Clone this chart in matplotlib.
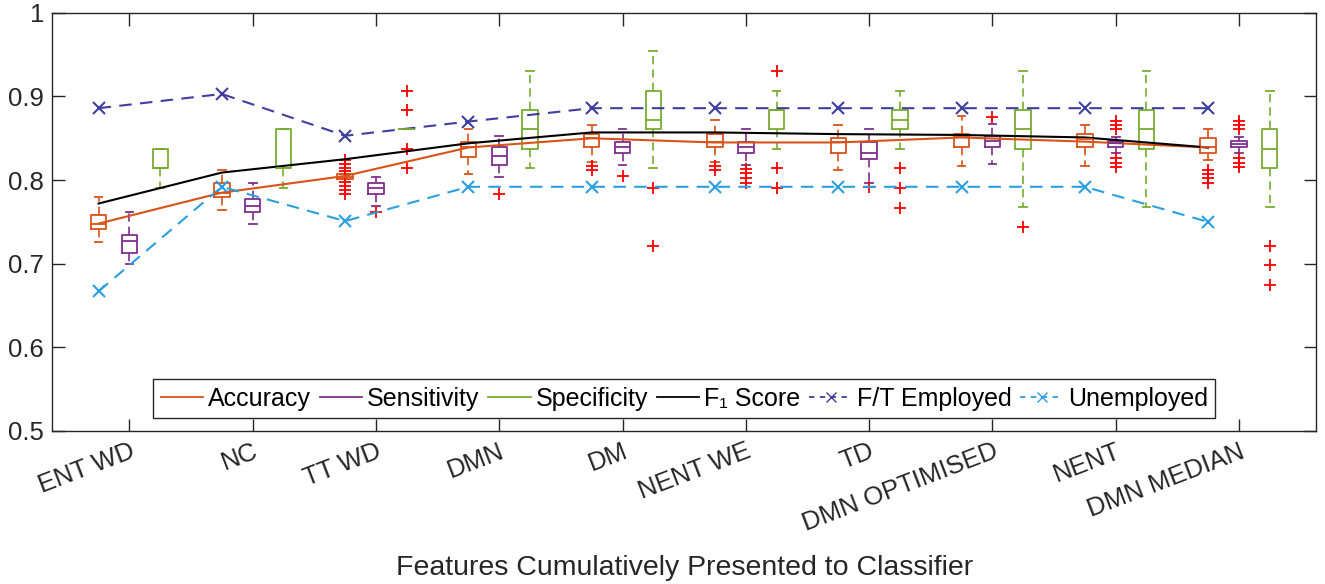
import matplotlib
matplotlib.use("Agg")
import matplotlib.pyplot as plt
from matplotlib.lines import Line2D

plt.rcParams['font.family'] = ['Liberation Sans', 'DejaVu Sans']

features = ["ENT WD", "NC", "TT WD", "DMN", "DM", "NENT WE", "TD",
            "DMN OPTIMISED", "NENT", "DMN MEDIAN"]

# accuracy box stats
acc_q1 = [0.742, 0.780, 0.801, 0.828, 0.839, 0.839, 0.833, 0.839, 0.839, 0.833]
acc_med = [0.748, 0.785, 0.804, 0.839, 0.850, 0.845, 0.845, 0.851, 0.849, 0.839]
acc_q3 = [0.758, 0.796, 0.807, 0.845, 0.855, 0.855, 0.850, 0.855, 0.855, 0.850]
acc_lo = [0.726, 0.764, 0.801, 0.807, 0.822, 0.822, 0.812, 0.817, 0.817, 0.824]
acc_hi = [0.780, 0.812, 0.807, 0.861, 0.866, 0.872, 0.866, 0.877, 0.866, 0.861]
acc_out = [[], [], [0.824, 0.819, 0.815, 0.811, 0.798, 0.793, 0.788, 0.783], [],
           [0.817, 0.812], [0.817, 0.812], [], [], [], [0.812, 0.807, 0.802, 0.797]]
acc_mean = [0.748, 0.785, 0.805, 0.839, 0.850, 0.845, 0.845, 0.851, 0.846, 0.839]

# sensitivity box stats
sen_q1 = [0.713, 0.762, 0.783, 0.818, 0.832, 0.832, 0.825, 0.839, 0.840, 0.839]
sen_med = [0.727, 0.769, 0.790, 0.829, 0.839, 0.839, 0.832, 0.847, 0.844, 0.843]
sen_q3 = [0.734, 0.777, 0.797, 0.839, 0.846, 0.846, 0.846, 0.853, 0.847, 0.847]
sen_lo = [0.700, 0.748, 0.769, 0.804, 0.818, 0.818, 0.797, 0.819, 0.833, 0.833]
sen_hi = [0.762, 0.797, 0.804, 0.853, 0.861, 0.861, 0.861, 0.867, 0.852, 0.852]
sen_out = [[], [], [0.762], [0.783], [0.805], [0.813, 0.808, 0.803, 0.797], [0.792],
           [0.875], [0.871, 0.866, 0.861, 0.826, 0.821, 0.816],
           [0.871, 0.866, 0.861, 0.826, 0.821, 0.816]]

# specificity box stats
spe_q1 = [0.814, 0.814, 0.861, 0.837, 0.861, 0.861, 0.861, 0.837, 0.837, 0.814]
spe_med = [0.814, 0.814, 0.861, 0.861, 0.872, 0.884, 0.872, 0.861, 0.861, 0.837]
spe_q3 = [0.837, 0.861, 0.861, 0.884, 0.907, 0.884, 0.884, 0.884, 0.884, 0.861]
spe_lo = [0.791, 0.791, 0.861, 0.814, 0.814, 0.837, 0.837, 0.768, 0.768, 0.768]
spe_hi = [0.837, 0.861, 0.861, 0.931, 0.954, 0.907, 0.907, 0.931, 0.931, 0.907]
spe_out = [[], [], [0.907, 0.884, 0.837, 0.814], [], [0.791, 0.721],
           [0.931, 0.814, 0.791], [0.814, 0.791, 0.767], [0.744], [],
           [0.721, 0.698, 0.674]]

f1_score = [0.772, 0.809, 0.825, 0.844, 0.857, 0.857, 0.855, 0.854, 0.851, 0.839]
ft_employed = [0.886, 0.903, 0.853, 0.870, 0.886, 0.886, 0.886, 0.886, 0.886, 0.886]
unemployed = [0.667, 0.792, 0.751, 0.792, 0.792, 0.792, 0.792, 0.792, 0.792, 0.750]

c_acc = "#D95319"
c_sen = "#7E2F8E"
c_spe = "#77AC30"
c_ft = "#3F3F9E"
c_un = "#2C9FE0"

fig = plt.figure(figsize=(13.25, 5.84), dpi=100)
ax = fig.add_axes([0.0395, 0.262, 0.9537, 0.716])

n = len(features)
dash = (0, (5, 3))
series = [
    (acc_q1, acc_med, acc_q3, acc_lo, acc_hi, acc_out, c_acc, 1),
    (sen_q1, sen_med, sen_q3, sen_lo, sen_hi, sen_out, c_sen, 2),
    (spe_q1, spe_med, spe_q3, spe_lo, spe_hi, spe_out, c_spe, 3),
]
for q1, med, q3, lo, hi, out, col, off in series:
    stats = []
    for i in range(n):
        stats.append(dict(q1=q1[i], med=med[i], q3=q3[i], whislo=lo[i],
                          whishi=hi[i], fliers=out[i]))
    pos = [4 * i + off for i in range(n)]
    ax.bxp(stats, positions=pos, widths=0.5, capwidths=0.25, manage_ticks=False,
           boxprops=dict(color=col, lw=1.3),
           medianprops=dict(color=col, lw=1.3),
           whiskerprops=dict(color=col, lw=1.2, linestyle=dash),
           capprops=dict(color=col, lw=1.3),
           flierprops=dict(marker='+', markeredgecolor='red', markersize=8,
                           markeredgewidth=1.3, linestyle='none'))

line_x = [4 * i + 1 for i in range(n)]
ax.plot(line_x, acc_mean, color=c_acc, lw=1.5)
ax.plot(line_x, f1_score, color='black', lw=1.5)
ax.plot(line_x, ft_employed, color=c_ft, lw=1.5, linestyle=(0, (6, 4)),
        marker='x', markersize=9, markeredgewidth=1.5)
ax.plot(line_x, unemployed, color=c_un, lw=1.5, linestyle=(0, (6, 4)),
        marker='x', markersize=9, markeredgewidth=1.5)

ax.set_xlim(-0.5, 40.5)
ax.set_ylim(0.5, 1.0)
ax.set_yticks([0.5, 0.6, 0.7, 0.8, 0.9, 1.0])
ax.set_yticklabels(["0.5", "0.6", "0.7", "0.8", "0.9", "1"], fontsize=18.5)
ax.set_xticks([4 * i + 2 for i in range(n)])
ax.set_xticklabels(features, fontsize=18.5, rotation=21, ha='right', va='top',
                   rotation_mode='anchor')
ax.tick_params(direction='in', length=9, width=1, top=True, right=True,
               color='#262626', labelcolor='#262626', pad=6)
for s in ax.spines.values():
    s.set_color('#262626')
    s.set_linewidth(1)
ax.set_xlabel("Features Cumulatively Presented to Classifier", fontsize=20.5,
              color='#262626', labelpad=14)

handles = [
    Line2D([], [], color=c_acc, lw=1.3),
    Line2D([], [], color=c_sen, lw=1.3),
    Line2D([], [], color=c_spe, lw=1.3),
    Line2D([], [], color='black', lw=1.3),
    Line2D([], [], color=c_ft, lw=1.3, linestyle=(0, (3, 3)), marker='x',
           markersize=7),
    Line2D([], [], color=c_un, lw=1.3, linestyle=(0, (3, 3)), marker='x',
           markersize=7),
]
labels = ["Accuracy", "Sensitivity", "Specificity", "F\u2081 Score",
          "F/T Employed", "Unemployed"]
leg = ax.legend(handles, labels, loc='lower center', bbox_to_anchor=(0.5, 0.03),
                ncol=6, fontsize=18, handlelength=1.7, handletextpad=0.2,
                columnspacing=0.35, borderpad=0.3, fancybox=False,
                framealpha=1, edgecolor='#262626', borderaxespad=0)
leg.get_frame().set_linewidth(1)

fig.savefig("out.png", dpi=100)
